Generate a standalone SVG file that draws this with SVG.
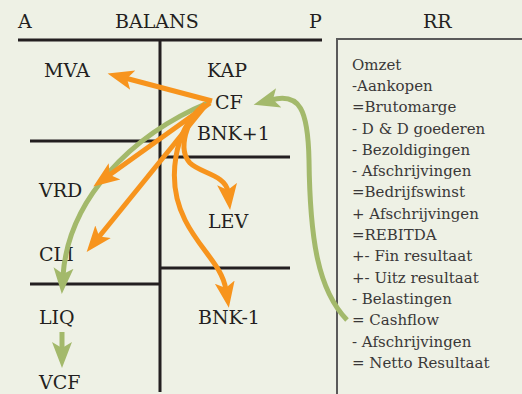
<svg xmlns="http://www.w3.org/2000/svg" width="522" height="394" viewBox="0 0 522 394">
<defs>
<style>
.lbl{font-family:"DejaVu Serif","Liberation Serif",serif;font-size:19px;fill:#231f20}
.rr{font-family:"DejaVu Serif","Liberation Serif",serif;font-size:15px;fill:#3a3838}
.ln{stroke:#231f20;stroke-width:3;fill:none}
.or{stroke:#f7941d;stroke-width:5;fill:none}
.gr{stroke:#a3b96b;stroke-width:5;fill:none}
</style>
<marker id="ho" markerUnits="userSpaceOnUse" viewBox="0 -11 27 22" markerWidth="27" markerHeight="22" refX="8" refY="0" orient="auto">
<path d="M0,-10 L26,0 L0,10 L6,0 z" fill="#f7941d"/>
</marker>
<marker id="hg" markerUnits="userSpaceOnUse" viewBox="0 -11 27 22" markerWidth="27" markerHeight="22" refX="8" refY="0" orient="auto">
<path d="M0,-10 L26,0 L0,10 L6,0 z" fill="#a3b96b"/>
</marker>
</defs>
<rect width="522" height="394" fill="#eef1e5"/>
<g id="balans-grid">
<path class="ln" d="M18 40 H322 M160 40 V392 M30 141 H160 M160 157 H290 M30 284 H160 M160 268 H290"/>
</g>
<g id="rr-box">
<rect x="337" y="39" width="200" height="370" fill="none" stroke="#5a5a5a" stroke-width="2"/>
</g>
<g id="headers">
<text class="lbl" x="18" y="28">A</text>
<text class="lbl" x="115" y="28">BALANS</text>
<text class="lbl" x="309" y="28">P</text>
<text class="lbl" x="423" y="28">RR</text>
</g>
<g id="MVA"><text class="lbl" x="44" y="77">MVA</text></g>
<g id="KAP"><text class="lbl" x="207" y="77">KAP</text></g>
<g id="CF"><text class="lbl" x="215" y="109">CF</text></g>
<g id="BNKplus1"><text class="lbl" x="197" y="140">BNK+1</text></g>
<g id="VRD"><text class="lbl" x="39" y="197">VRD</text></g>
<g id="LEV"><text class="lbl" x="208" y="228">LEV</text></g>
<g id="CLI"><text class="lbl" x="39" y="261">CLI</text></g>
<g id="LIQ"><text class="lbl" x="39" y="324">LIQ</text></g>
<g id="BNKmin1"><text class="lbl" x="198" y="324">BNK-1</text></g>
<g id="VCF"><text class="lbl" x="39" y="389">VCF</text></g>
<g id="RR">
<text class="rr" x="352" y="70">Omzet</text>
<text class="rr" x="352" y="91">-Aankopen</text>
<text class="rr" x="352" y="112">=Brutomarge</text>
<text class="rr" x="352" y="134">- D &amp; D goederen</text>
<text class="rr" x="352" y="155">- Bezoldigingen</text>
<text class="rr" x="352" y="176">- Afschrijvingen</text>
<text class="rr" x="352" y="197">=Bedrijfswinst</text>
<text class="rr" x="352" y="219">+ Afschrijvingen</text>
<text class="rr" x="352" y="240">=REBITDA</text>
<text class="rr" x="352" y="261">+- Fin resultaat</text>
<text class="rr" x="352" y="283">+- Uitz resultaat</text>
<text class="rr" x="352" y="304">- Belastingen</text>
<text class="rr" x="352" y="325">= Cashflow</text>
<text class="rr" x="352" y="347">-  Afschrijvingen</text>
<text class="rr" x="352" y="368">= Netto Resultaat</text>
</g>
<g id="connectors">
<path class="gr" marker-end="url(#hg)" d="M347 320 C318 290 310 240 309 160 C308 110 300 92 271 100"/>
<path class="gr" marker-end="url(#hg)" d="M210 102 C130 135 68 200 63 276"/>
<path class="gr" marker-end="url(#hg)" d="M62 332 V350"/>
<path class="or" marker-end="url(#ho)" d="M212 101 L125 78"/>
<path class="or" marker-end="url(#ho)" d="M210 103 L108 176"/>
<path class="or" marker-end="url(#ho)" d="M205 106 L98 238"/>
<path class="or" marker-end="url(#ho)" d="M205 104 C185 120 178 150 190 163 C200 173 226 175 228 192"/>
<path class="or" marker-end="url(#ho)" d="M202 107 C175 130 165 180 185 220 C200 250 222 265 226 290"/>
</g>
</svg>
